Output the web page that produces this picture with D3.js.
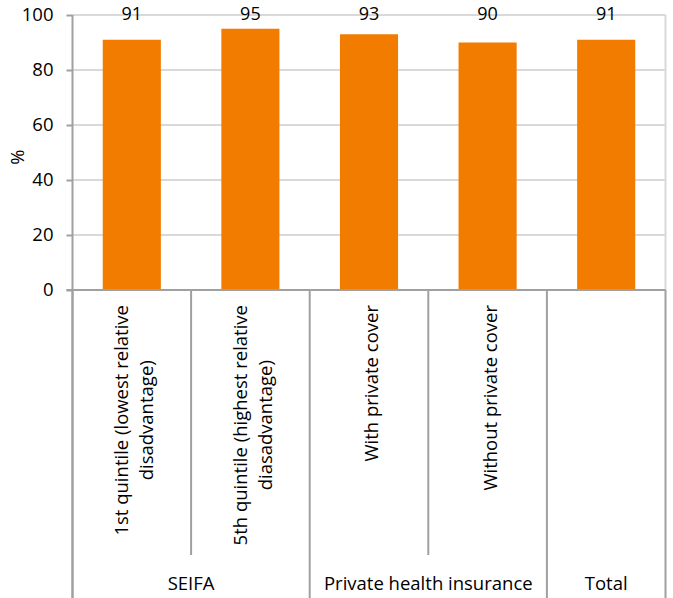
<!DOCTYPE html>
<html><head><meta charset="utf-8">
<script src="https://cdn.jsdelivr.net/npm/d3@7"></script>
<style>body{margin:0;background:#fff}svg{display:block}text{font-family:"Open Sans",sans-serif;fill:#000}</style>
</head><body>
<svg id="c" width="673" height="598"></svg>
<script>
const categories = [
  ["1st quintile (lowest relative", "disadvantage)"],
  ["5th  quintile (highest relative", "diasadvantage)"],
  ["With private cover"],
  ["Without private cover"],
  [""]
];
const values = [91, 95, 93, 90, 91];
const groups = ["SEIFA", "Private health insurance", "Total"];
const groupSpans = [2, 2, 1];
const yTicks = [0, 20, 40, 60, 80, 100];

const svg = d3.select("#c");
const L = 72.5, R = 665.5, T = 15, B = 290;
const FS = 18.5;
const x = d3.scaleBand().domain(d3.range(values.length)).range([L, R]).paddingInner(0.51).paddingOuter(0.255);
const y = d3.scaleLinear().domain([0, 100]).range([B, T]);
const edge = i => L + i * (R - L) / values.length;

// gridlines
svg.append("g").selectAll("line").data(yTicks.filter(t => t > 0)).join("line")
  .attr("x1", L).attr("x2", R).attr("y1", d => y(d)).attr("y2", d => y(d))
  .attr("stroke", "#d9d9d9").attr("stroke-width", 2);
// right border
svg.append("line").attr("x1", R).attr("x2", R).attr("y1", T).attr("y2", B).attr("stroke", "#d9d9d9").attr("stroke-width", 2);

// bars
svg.append("g").selectAll("rect").data(values).join("rect")
  .attr("x", (d, i) => x(i)).attr("width", x.bandwidth())
  .attr("y", d => y(d)).attr("height", d => B - y(d))
  .attr("fill", "#f27c00");

// data labels
svg.append("g").selectAll("text").data(values).join("text")
  .attr("x", (d, i) => x(i) + x.bandwidth() / 2).attr("y", y(100) + 5)
  .attr("text-anchor", "middle").attr("font-size", FS - 0.5).text(d => d);

// y axis
const yAxis = svg.append("g").attr("transform", `translate(${L},0)`)
  .call(d3.axisLeft(y).tickValues(yTicks).tickSize(6).tickSizeOuter(0).tickPadding(13));
yAxis.selectAll("path,line").attr("stroke", "#a0a0a0").attr("stroke-width", 2);
yAxis.selectAll("text").attr("font-size", FS).attr("font-family", "Open Sans").attr("fill", "#000");
yAxis.select(".domain").attr("d", `M0,${T}V598`);

svg.append("text").attr("transform", "translate(24,157) rotate(-90)")
  .attr("text-anchor", "middle").attr("font-size", FS).text("%");

// x baseline
svg.append("line").attr("x1", L - 6).attr("x2", R).attr("y1", B).attr("y2", B).attr("stroke", "#a0a0a0").attr("stroke-width", 2);

// separators
const groupEdges = [0];
groupSpans.forEach(s => groupEdges.push(groupEdges[groupEdges.length - 1] + s));
d3.range(values.length + 1).forEach(i => {
  const isGroup = groupEdges.includes(i);
  svg.append("line").attr("x1", edge(i)).attr("x2", edge(i)).attr("y1", B).attr("y2", isGroup ? 598 : 555)
    .attr("stroke", "#a0a0a0").attr("stroke-width", 2);
});

// category labels (rotated)
const lineH = 25, topY = 305;
categories.forEach((lines, i) => {
  const cx = x(i) + x.bandwidth() / 2;
  const n = lines.length;
  const g = svg.append("g");
  const texts = lines.map((s, k) => g.append("text")
    .attr("font-size", FS).attr("text-anchor", "middle").text(s));
  const maxLen = d3.max(texts, t => t.node().getComputedTextLength());
  texts.forEach((t, k) => {
    const lx = cx + (k - (n - 1) / 2) * lineH + 9;
    const ly = topY + maxLen / 2;
    t.attr("transform", `translate(${lx},${ly}) rotate(-90)`);
  });
});

// group labels
groups.forEach((gname, gi) => {
  const cx = (edge(groupEdges[gi]) + edge(groupEdges[gi + 1])) / 2;
  svg.append("text").attr("x", cx).attr("y", 590).attr("text-anchor", "middle").attr("font-size", FS).text(gname);
});
</script>
</body></html>
